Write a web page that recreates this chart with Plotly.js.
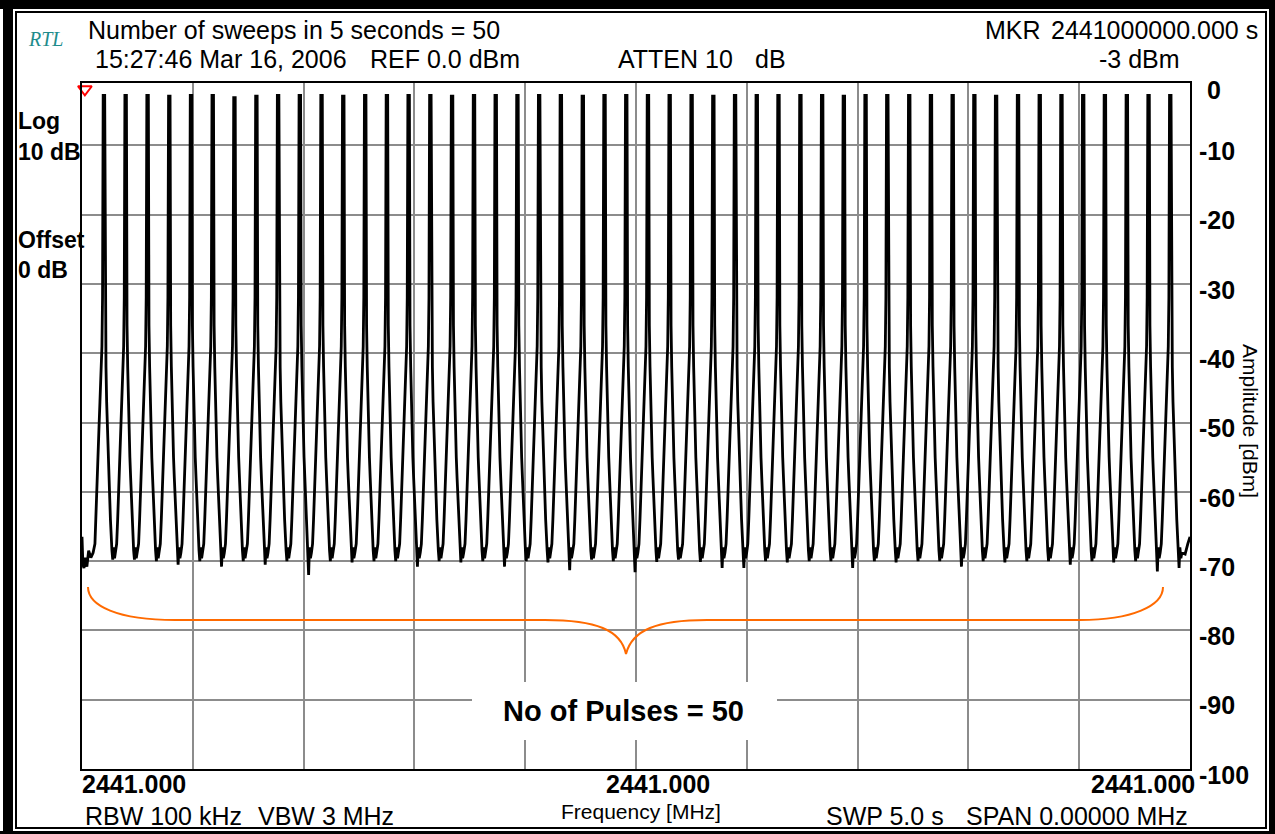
<!DOCTYPE html>
<html>
<head>
<meta charset="utf-8">
<script src="https://cdn.plot.ly/plotly-3.0.1.min.js"></script>
<style>
  html, body { margin: 0; padding: 0; background: #fff; }
  #chart { width: 1275px; height: 834px; }
</style>
</head>
<body>
<div id="chart"></div>
<script>
// ---------------- data ----------------
// time of each pulse peak within the 5 s sweep (s)
const pulseT = [0.099,0.197,0.296,0.394,0.492,0.590,0.688,0.787,0.885,0.983,
                1.081,1.179,1.278,1.376,1.474,1.572,1.670,1.769,1.867,1.965,
                2.063,2.161,2.260,2.358,2.456,2.554,2.652,2.751,2.849,2.947,
                3.045,3.143,3.242,3.340,3.438,3.536,3.634,3.733,3.831,3.929,
                4.027,4.125,4.224,4.322,4.420,4.518,4.616,4.715,4.813,4.911];
// peak level of each pulse (dBm)
const pulsePeak = [-2.8,-2.8,-2.8,-2.9,-2.8,-2.8,-3.1,-2.9,-2.8,-2.8,
                   -2.8,-2.9,-2.8,-2.8,-2.8,-2.8,-2.9,-2.8,-2.8,-2.8,
                   -2.8,-2.8,-2.9,-2.8,-2.8,-2.8,-2.8,-2.8,-2.9,-2.8,
                   -2.8,-2.8,-2.8,-2.8,-2.9,-2.8,-2.8,-2.8,-2.8,-2.8,
                   -2.8,-2.9,-2.8,-2.8,-2.8,-2.8,-2.8,-2.8,-2.8,-2.8];
// level where the falling edge leaves the narrow spike (dBm)
const pulseBreak = [-20,-23,-34,-27,-27,-23,-24,-23,-20,-26,
                    -22,-30,-21,-25,-28,-20,-24,-31,-22,-26,
                    -19,-27,-23,-33,-21,-25,-29,-22,-24,-20,
                    -28,-23,-32,-21,-26,-24,-19,-30,-22,-27,
                    -25,-21,-33,-23,-26,-23,-23,-21,-27,-19];
// deepest noise dip in the floor after each pulse (dBm)
const gapDip = [-69.8,-69.8,-70.0,-70.5,-70.0,-70.8,-70.0,-70.5,-70.0,-72.0,
                -70.0,-70.2,-70.0,-70.0,-70.8,-70.0,-70.2,-70.0,-70.8,-70.0,
                -70.2,-71.3,-69.8,-70.0,-71.6,-70.1,-69.8,-70.1,-71.0,-71.0,
                -70.0,-70.2,-70.0,-70.0,-71.0,-70.0,-70.2,-70.0,-70.0,-70.8,
                -70.0,-70.2,-70.0,-70.0,-70.5,-70.0,-70.2,-70.0,-71.5,-71.0];
// pulse profile read from one pulse: offsets from the peak (s) and levels (dBm)
const riseOff = [-0.0406,-0.0361,-0.0316,-0.0271,-0.0226,-0.0180,-0.0135,-0.0090,-0.0063,-0.0048];
const riseDb  = [-67.5,-64,-60,-56,-51,-47,-43,-39,-32,-20];
const peakHalf = 0.0034;
const breakOff = 0.0045;
const fallOff = [0.0062,0.0092,0.0122,0.0153,0.0190,0.0226,0.0262,0.0293,0.0325];
const fallDb  = [-36,-42,-47,-51,-55,-58,-61,-64,-67];
const floorOff = [0.0361,0.0397,0.0433,0.0478,0.0523];
const floorDb  = [-68.5,null,-68.0,-69.6,-68.8];
// noise floor before the first pulse and after the last
const leadT  = [0,0.004,0.009,0.015,0.022,0.030,0.040,0.050];
const leadDb = [-66.5,-70.5,-71,-69.5,-70.8,-68.5,-69.5,-68.8];
const tailT  = [4.978,4.990,5.0];
const tailDb = [-69.0,-67.5,-66.5];
// marker
const mkrT = [0.013];
const mkrDb = [-1.9];
// axis ticks
const yTicks = [-10,-20,-30,-40,-50,-60,-70,-80,-90,-100];
const yTickText = ['-10','-20','-30','-40','-50','-60','-70','-80','-90','-100'];
const xTickText = ['2441.000','2441.000','2441.000'];

// ---------------- build trace ----------------
const xs = [], ys = [];
leadT.forEach((t, i) => { xs.push(t); ys.push(leadDb[i]); });
pulseT.forEach((t0, k) => {
  riseOff.forEach((o, i) => { xs.push(t0 + o); ys.push(riseDb[i]); });
  xs.push(t0 - peakHalf); ys.push(pulsePeak[k]);
  xs.push(t0 + peakHalf); ys.push(pulsePeak[k]);
  xs.push(t0 + breakOff); ys.push(pulseBreak[k]);
  fallOff.forEach((o, i) => { xs.push(t0 + o); ys.push(fallDb[i]); });
  floorOff.forEach((o, i) => { xs.push(t0 + o); ys.push(floorDb[i] === null ? gapDip[k] : floorDb[i]); });
});
tailT.forEach((t, i) => { xs.push(t); ys.push(tailDb[i]); });

// ---------------- geometry helpers (pixel -> paper / data) ----------------
const L = 82, R = 1190, T = 83, B = 769;
const W = R - L, H = B - T;
const px = x => (x - L) / W;
const py = y => (B - y) / H;
const dx = x => (x - L) * 5 / W;
const dy = y => -1 - (y - T) * 99 / H;

const FONT = 'Liberation Sans, Arial, Helvetica, sans-serif';
function ann(text, x, y, xanchor, size, extra) {
  return Object.assign({
    text: text, xref: 'paper', yref: 'paper', x: px(x), y: py(y),
    xanchor: xanchor, yanchor: 'middle', showarrow: false,
    font: { family: FONT, size: size, color: '#000' }
  }, extra || {});
}
const bold = (s, c) => ({ family: FONT, size: s, color: c || '#000', weight: 'bold' });

const annotations = [
  ann('RTL', 26, 39, 'left', 20, { font: { family: 'Liberation Serif, Times New Roman, serif', size: 20, color: '#1f8c8c', style: 'italic' } }),
  ann('Number of sweeps in 5 seconds = 50', 86, 30, 'left', 25),
  ann('15:27:46 Mar 16, 2006', 93, 59, 'left', 25),
  ann('REF 0.0 dBm', 368, 59, 'left', 25),
  ann('ATTEN 10', 616, 59, 'left', 25),
  ann('dB', 788, 59, 'right', 25),
  ann('MKR', 983, 30, 'left', 25),
  ann('2441000000.000 s', 1260, 30, 'right', 25),
  ann('-3 dBm', 1182, 59, 'right', 25),
  ann('Log', 16, 121, 'left', 23, { font: bold(23) }),
  ann('10 dB', 16, 152, 'left', 23, { font: bold(23) }),
  ann('Offset', 16, 240, 'left', 23, { font: bold(23) }),
  ann('0 dB', 16, 270, 'left', 23, { font: bold(23) }),
  ann('0', 1205, 90, 'left', 25, { font: bold(25) }),
  ann(xTickText[0], 80, 784, 'left', 25, { font: bold(25) }),
  ann(xTickText[1], 658, 784, 'center', 25, { font: bold(25) }),
  ann(xTickText[2], 1197, 784, 'right', 25, { font: bold(25) }),
  ann('Frequency [MHz]', 641, 812, 'center', 21),
  ann('RBW 100 kHz', 83, 816, 'left', 25),
  ann('VBW 3 MHz', 256, 816, 'left', 25),
  ann('SWP 5.0 s', 824, 816, 'left', 25),
  ann('SPAN 0.00000 MHz', 1190, 816, 'right', 25),
  ann('Amplitude [dBm]', 1251, 421, 'center', 21, { textangle: 90 }),
  ann('No of Pulses = 50', 623, 711, 'center', 29, { font: bold(29) })
];

const bracePath =
  'M ' + dx(88) + ',' + dy(587) +
  ' C ' + dx(88) + ',' + dy(606) + ' ' + dx(118) + ',' + dy(620) + ' ' + dx(175) + ',' + dy(620) +
  ' L ' + dx(545) + ',' + dy(620) +
  ' C ' + dx(596) + ',' + dy(620) + ' ' + dx(621) + ',' + dy(630) + ' ' + dx(626) + ',' + dy(654) +
  ' C ' + dx(632) + ',' + dy(630) + ' ' + dx(657) + ',' + dy(620) + ' ' + dx(707) + ',' + dy(620) +
  ' L ' + dx(1080) + ',' + dy(620) +
  ' C ' + dx(1132) + ',' + dy(620) + ' ' + dx(1163) + ',' + dy(606) + ' ' + dx(1163) + ',' + dy(587);

function prect(x0, y0, x1, y1, fill, line) {
  return { type: 'rect', xref: 'paper', yref: 'paper', layer: 'above',
           x0: px(x0), x1: px(x1), y0: py(y1), y1: py(y0),
           fillcolor: fill, line: line };
}

const shapes = [
  prect(472, 682, 777, 740, '#ffffff', { width: 0 }),
  { type: 'path', xref: 'x', yref: 'y', layer: 'above', path: bracePath,
    line: { color: '#ff6a00', width: 2 } },
  prect(0, 0, 1275, 9, '#000', { width: 0 }),
  prect(3, 0, 13, 834, '#000', { width: 0 }),
  prect(1269, 0, 1275, 834, '#000', { width: 0 }),
  prect(0, 831, 1275, 834, '#000', { width: 0 }),
  prect(16, 12, 1266, 828, 'rgba(0,0,0,0)', { color: '#000', width: 2 })
];

const traces = [
  { x: xs, y: ys, type: 'scatter', mode: 'lines', name: 'Amplitude',
    line: { color: '#000', width: 2.8 }, hoverinfo: 'skip' },
  { x: mkrT, y: mkrDb, type: 'scatter', mode: 'markers', name: 'MKR',
    cliponaxis: false,
    marker: { symbol: 'triangle-down-open', size: 12, color: '#ff0000', line: { width: 2, color: '#ff0000' } } }
];

const layout = {
  width: 1275, height: 834,
  margin: { l: L, r: 1275 - R, t: T, b: 834 - B, pad: 0 },
  paper_bgcolor: '#ffffff', plot_bgcolor: '#ffffff',
  showlegend: false,
  font: { family: FONT, color: '#000' },
  xaxis: {
    range: [0, 5], tick0: 0, dtick: 0.5, showticklabels: false, ticks: '',
    showgrid: true, gridcolor: '#8c8c8c', gridwidth: 2, zeroline: false,
    showline: true, linecolor: '#000', linewidth: 2, mirror: true, fixedrange: true
  },
  yaxis: {
    range: [-100, -1], side: 'right', tickmode: 'array', tickvals: yTicks, ticktext: yTickText,
    ticks: '', showgrid: true, gridcolor: '#8c8c8c', gridwidth: 2, zeroline: false,
    showline: true, linecolor: '#000', linewidth: 2, mirror: true, fixedrange: true,
    tickfont: { family: FONT, size: 25, color: '#000', weight: 'bold' },
    ticklabelstandoff: 2, ticklabelshift: 6
  },
  annotations: annotations,
  shapes: shapes
};

Plotly.newPlot('chart', traces, layout, { displayModeBar: false, staticPlot: true });
</script>
</body>
</html>
